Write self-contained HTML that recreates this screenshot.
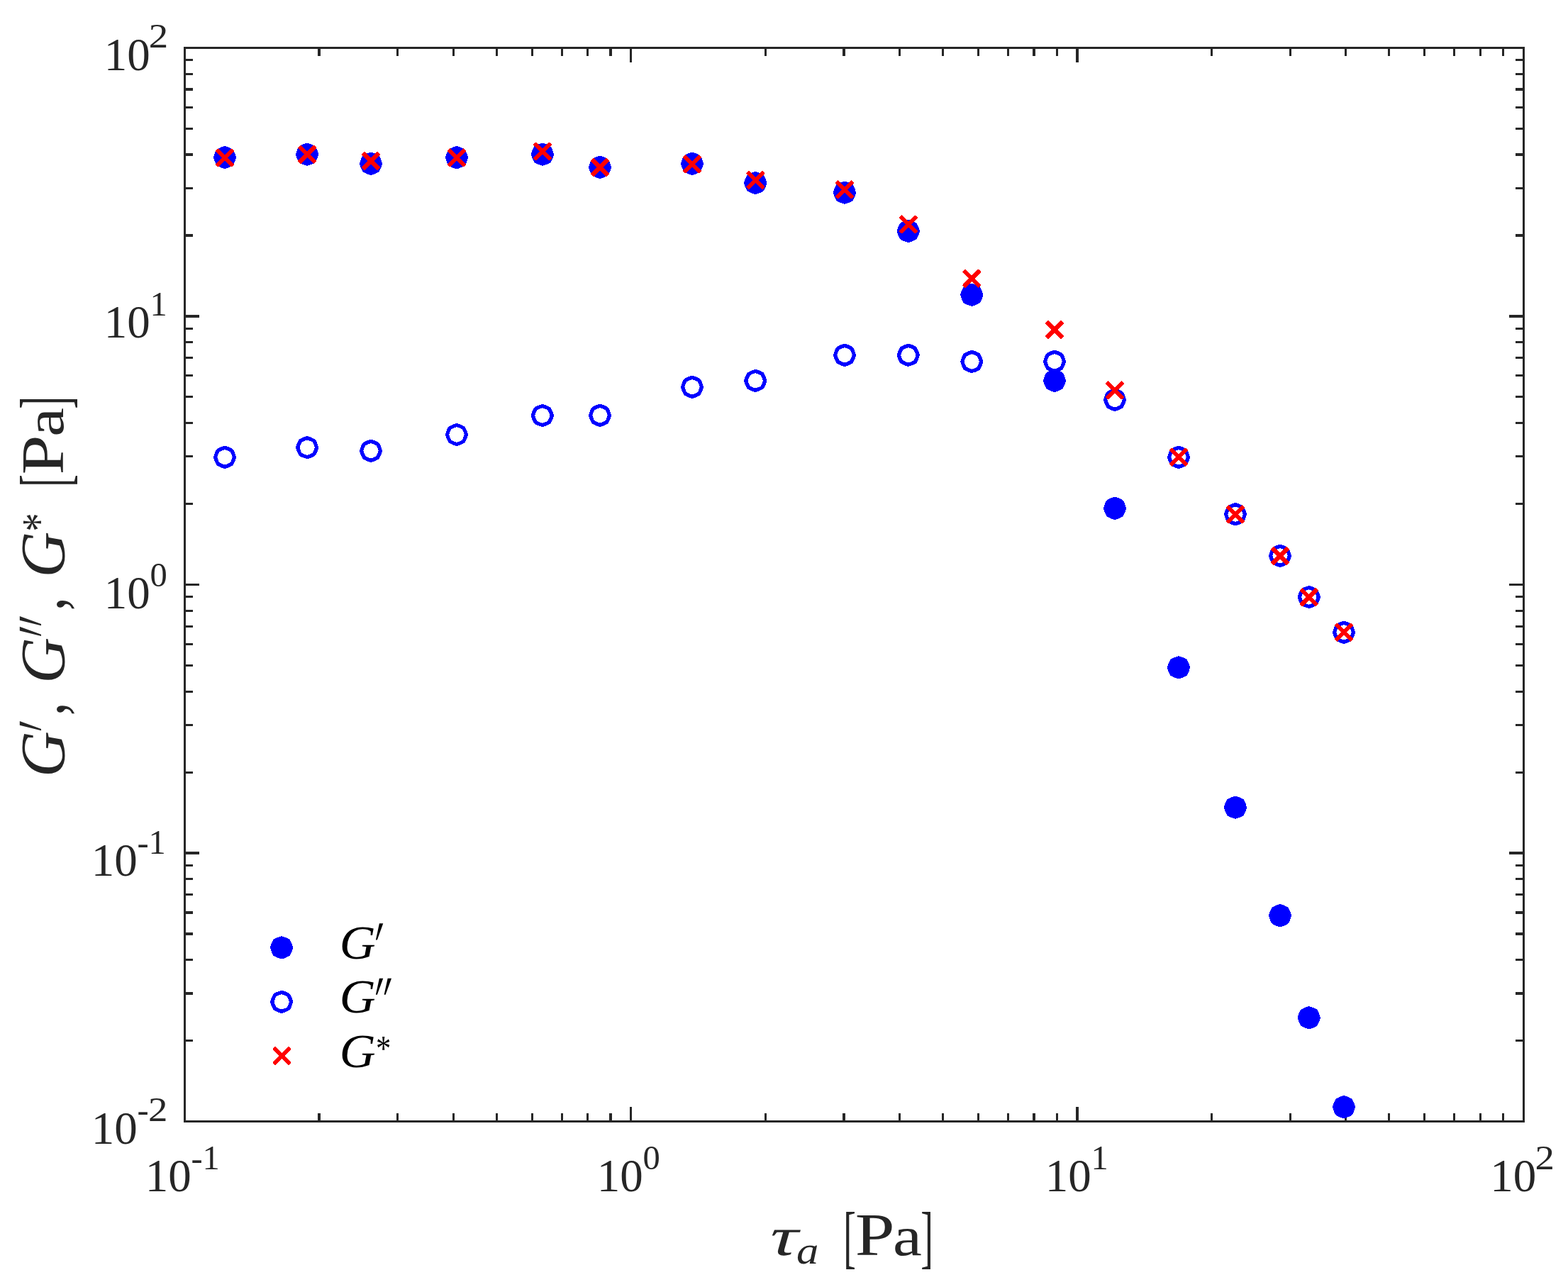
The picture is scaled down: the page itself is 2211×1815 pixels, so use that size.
<!DOCTYPE html>
<html lang="en"><head><meta charset="utf-8"><title>G′, G″, G* vs τa [Pa]</title>
<style>
html,body{margin:0;padding:0;background:#fff;}
body{width:2211px;height:1815px;}
svg{display:block;}
text{font-family:"Liberation Serif","DejaVu Serif",serif;fill:#262626;white-space:pre;}
.i{font-style:italic;}
.lg text{fill:#000;}
</style></head><body>
<svg width="2211" height="1815" viewBox="0 0 2211 1815" role="img" aria-label="Log-log plot of G′, G″ and G* [Pa] against τa [Pa]">
<rect x="0" y="0" width="2211" height="1815" fill="#fff"/>
<g fill="#262626" shape-rendering="crispEdges">
<rect x="259" y="66" width="1891" height="3"/>
<rect x="259" y="1580" width="1891" height="3"/>
<rect x="259" y="66" width="3" height="1517"/>
<rect x="2147" y="66" width="3" height="1517"/>
<rect x="448" y="1570" width="4" height="13"/>
<rect x="448" y="66" width="4" height="13"/>
<rect x="559" y="1570" width="3" height="13"/>
<rect x="559" y="66" width="3" height="13"/>
<rect x="638" y="1570" width="3" height="13"/>
<rect x="638" y="66" width="3" height="13"/>
<rect x="699" y="1570" width="3" height="13"/>
<rect x="699" y="66" width="3" height="13"/>
<rect x="749" y="1570" width="3" height="13"/>
<rect x="749" y="66" width="3" height="13"/>
<rect x="791" y="1570" width="3" height="13"/>
<rect x="791" y="66" width="3" height="13"/>
<rect x="827" y="1570" width="3" height="13"/>
<rect x="827" y="66" width="3" height="13"/>
<rect x="859" y="1570" width="4" height="13"/>
<rect x="859" y="66" width="4" height="13"/>
<rect x="888" y="1561" width="3" height="22"/>
<rect x="888" y="66" width="3" height="22"/>
<rect x="1078" y="1570" width="3" height="13"/>
<rect x="1078" y="66" width="3" height="13"/>
<rect x="1188" y="1570" width="4" height="13"/>
<rect x="1188" y="66" width="4" height="13"/>
<rect x="1267" y="1570" width="3" height="13"/>
<rect x="1267" y="66" width="3" height="13"/>
<rect x="1328" y="1570" width="3" height="13"/>
<rect x="1328" y="66" width="3" height="13"/>
<rect x="1378" y="1570" width="3" height="13"/>
<rect x="1378" y="66" width="3" height="13"/>
<rect x="1420" y="1570" width="3" height="13"/>
<rect x="1420" y="66" width="3" height="13"/>
<rect x="1456" y="1570" width="4" height="13"/>
<rect x="1456" y="66" width="4" height="13"/>
<rect x="1489" y="1570" width="3" height="13"/>
<rect x="1489" y="66" width="3" height="13"/>
<rect x="1517" y="1561" width="4" height="22"/>
<rect x="1517" y="66" width="4" height="22"/>
<rect x="1707" y="1570" width="3" height="13"/>
<rect x="1707" y="66" width="3" height="13"/>
<rect x="1818" y="1570" width="3" height="13"/>
<rect x="1818" y="66" width="3" height="13"/>
<rect x="1896" y="1570" width="3" height="13"/>
<rect x="1896" y="66" width="3" height="13"/>
<rect x="1957" y="1570" width="3" height="13"/>
<rect x="1957" y="66" width="3" height="13"/>
<rect x="2007" y="1570" width="3" height="13"/>
<rect x="2007" y="66" width="3" height="13"/>
<rect x="2049" y="1570" width="3" height="13"/>
<rect x="2049" y="66" width="3" height="13"/>
<rect x="2086" y="1570" width="3" height="13"/>
<rect x="2086" y="66" width="3" height="13"/>
<rect x="2118" y="1570" width="3" height="13"/>
<rect x="2118" y="66" width="3" height="13"/>
<rect x="259" y="1466" width="13" height="3"/>
<rect x="2137" y="1466" width="13" height="3"/>
<rect x="259" y="1399" width="13" height="4"/>
<rect x="2137" y="1399" width="13" height="4"/>
<rect x="259" y="1352" width="13" height="3"/>
<rect x="2137" y="1352" width="13" height="3"/>
<rect x="259" y="1315" width="13" height="4"/>
<rect x="2137" y="1315" width="13" height="4"/>
<rect x="259" y="1285" width="13" height="4"/>
<rect x="2137" y="1285" width="13" height="4"/>
<rect x="259" y="1260" width="13" height="3"/>
<rect x="2137" y="1260" width="13" height="3"/>
<rect x="259" y="1238" width="13" height="3"/>
<rect x="2137" y="1238" width="13" height="3"/>
<rect x="259" y="1219" width="13" height="3"/>
<rect x="2137" y="1219" width="13" height="3"/>
<rect x="259" y="1201" width="22" height="4"/>
<rect x="2128" y="1201" width="22" height="4"/>
<rect x="259" y="1088" width="13" height="3"/>
<rect x="2137" y="1088" width="13" height="3"/>
<rect x="259" y="1021" width="13" height="3"/>
<rect x="2137" y="1021" width="13" height="3"/>
<rect x="259" y="974" width="13" height="3"/>
<rect x="2137" y="974" width="13" height="3"/>
<rect x="259" y="937" width="13" height="3"/>
<rect x="2137" y="937" width="13" height="3"/>
<rect x="259" y="907" width="13" height="3"/>
<rect x="2137" y="907" width="13" height="3"/>
<rect x="259" y="882" width="13" height="3"/>
<rect x="2137" y="882" width="13" height="3"/>
<rect x="259" y="860" width="13" height="3"/>
<rect x="2137" y="860" width="13" height="3"/>
<rect x="259" y="840" width="13" height="3"/>
<rect x="2137" y="840" width="13" height="3"/>
<rect x="259" y="823" width="22" height="3"/>
<rect x="2128" y="823" width="22" height="3"/>
<rect x="259" y="709" width="13" height="3"/>
<rect x="2137" y="709" width="13" height="3"/>
<rect x="259" y="642" width="13" height="3"/>
<rect x="2137" y="642" width="13" height="3"/>
<rect x="259" y="595" width="13" height="3"/>
<rect x="2137" y="595" width="13" height="3"/>
<rect x="259" y="558" width="13" height="3"/>
<rect x="2137" y="558" width="13" height="3"/>
<rect x="259" y="528" width="13" height="3"/>
<rect x="2137" y="528" width="13" height="3"/>
<rect x="259" y="503" width="13" height="3"/>
<rect x="2137" y="503" width="13" height="3"/>
<rect x="259" y="481" width="13" height="3"/>
<rect x="2137" y="481" width="13" height="3"/>
<rect x="259" y="462" width="13" height="3"/>
<rect x="2137" y="462" width="13" height="3"/>
<rect x="259" y="444" width="22" height="4"/>
<rect x="2128" y="444" width="22" height="4"/>
<rect x="259" y="330" width="13" height="4"/>
<rect x="2137" y="330" width="13" height="4"/>
<rect x="259" y="264" width="13" height="3"/>
<rect x="2137" y="264" width="13" height="3"/>
<rect x="259" y="216" width="13" height="4"/>
<rect x="2137" y="216" width="13" height="4"/>
<rect x="259" y="180" width="13" height="3"/>
<rect x="2137" y="180" width="13" height="3"/>
<rect x="259" y="150" width="13" height="3"/>
<rect x="2137" y="150" width="13" height="3"/>
<rect x="259" y="124" width="13" height="4"/>
<rect x="2137" y="124" width="13" height="4"/>
<rect x="259" y="103" width="13" height="3"/>
<rect x="2137" y="103" width="13" height="3"/>
<rect x="259" y="83" width="13" height="3"/>
<rect x="2137" y="83" width="13" height="3"/>
</g>
<g id="series-Gp" fill="#0000ff" stroke="#0000ff" stroke-width="5.28" stroke-linejoin="round" shape-rendering="crispEdges">
<polygon transform="translate(317.0 222.0)" points="13.46,0.00 11.83,4.90 9.52,9.52 4.90,11.83 0.00,13.46 -4.90,11.83 -9.52,9.52 -11.83,4.90 -13.46,0.00 -11.83,-4.90 -9.52,-9.52 -4.90,-11.83 -0.00,-13.46 4.90,-11.83 9.52,-9.52 11.83,-4.90"/>
<polygon transform="translate(433.1 217.7)" points="13.46,0.00 11.83,4.90 9.52,9.52 4.90,11.83 0.00,13.46 -4.90,11.83 -9.52,9.52 -11.83,4.90 -13.46,0.00 -11.83,-4.90 -9.52,-9.52 -4.90,-11.83 -0.00,-13.46 4.90,-11.83 9.52,-9.52 11.83,-4.90"/>
<polygon transform="translate(523.0 230.9)" points="13.46,0.00 11.83,4.90 9.52,9.52 4.90,11.83 0.00,13.46 -4.90,11.83 -9.52,9.52 -11.83,4.90 -13.46,0.00 -11.83,-4.90 -9.52,-9.52 -4.90,-11.83 -0.00,-13.46 4.90,-11.83 9.52,-9.52 11.83,-4.90"/>
<polygon transform="translate(644.0 222.1)" points="13.46,0.00 11.83,4.90 9.52,9.52 4.90,11.83 0.00,13.46 -4.90,11.83 -9.52,9.52 -11.83,4.90 -13.46,0.00 -11.83,-4.90 -9.52,-9.52 -4.90,-11.83 -0.00,-13.46 4.90,-11.83 9.52,-9.52 11.83,-4.90"/>
<polygon transform="translate(764.9 217.7)" points="13.46,0.00 11.83,4.90 9.52,9.52 4.90,11.83 0.00,13.46 -4.90,11.83 -9.52,9.52 -11.83,4.90 -13.46,0.00 -11.83,-4.90 -9.52,-9.52 -4.90,-11.83 -0.00,-13.46 4.90,-11.83 9.52,-9.52 11.83,-4.90"/>
<polygon transform="translate(846.0 235.9)" points="13.46,0.00 11.83,4.90 9.52,9.52 4.90,11.83 0.00,13.46 -4.90,11.83 -9.52,9.52 -11.83,4.90 -13.46,0.00 -11.83,-4.90 -9.52,-9.52 -4.90,-11.83 -0.00,-13.46 4.90,-11.83 9.52,-9.52 11.83,-4.90"/>
<polygon transform="translate(976.0 230.9)" points="13.46,0.00 11.83,4.90 9.52,9.52 4.90,11.83 0.00,13.46 -4.90,11.83 -9.52,9.52 -11.83,4.90 -13.46,0.00 -11.83,-4.90 -9.52,-9.52 -4.90,-11.83 -0.00,-13.46 4.90,-11.83 9.52,-9.52 11.83,-4.90"/>
<polygon transform="translate(1065.2 258.0)" points="13.46,0.00 11.83,4.90 9.52,9.52 4.90,11.83 0.00,13.46 -4.90,11.83 -9.52,9.52 -11.83,4.90 -13.46,0.00 -11.83,-4.90 -9.52,-9.52 -4.90,-11.83 -0.00,-13.46 4.90,-11.83 9.52,-9.52 11.83,-4.90"/>
<polygon transform="translate(1191.0 271.7)" points="13.46,0.00 11.83,4.90 9.52,9.52 4.90,11.83 0.00,13.46 -4.90,11.83 -9.52,9.52 -11.83,4.90 -13.46,0.00 -11.83,-4.90 -9.52,-9.52 -4.90,-11.83 -0.00,-13.46 4.90,-11.83 9.52,-9.52 11.83,-4.90"/>
<polygon transform="translate(1280.8 326.0)" points="13.46,0.00 11.83,4.90 9.52,9.52 4.90,11.83 0.00,13.46 -4.90,11.83 -9.52,9.52 -11.83,4.90 -13.46,0.00 -11.83,-4.90 -9.52,-9.52 -4.90,-11.83 -0.00,-13.46 4.90,-11.83 9.52,-9.52 11.83,-4.90"/>
<polygon transform="translate(1370.3 415.8)" points="13.46,0.00 11.83,4.90 9.52,9.52 4.90,11.83 0.00,13.46 -4.90,11.83 -9.52,9.52 -11.83,4.90 -13.46,0.00 -11.83,-4.90 -9.52,-9.52 -4.90,-11.83 -0.00,-13.46 4.90,-11.83 9.52,-9.52 11.83,-4.90"/>
<polygon transform="translate(1487.0 536.8)" points="13.46,0.00 11.83,4.90 9.52,9.52 4.90,11.83 0.00,13.46 -4.90,11.83 -9.52,9.52 -11.83,4.90 -13.46,0.00 -11.83,-4.90 -9.52,-9.52 -4.90,-11.83 -0.00,-13.46 4.90,-11.83 9.52,-9.52 11.83,-4.90"/>
<polygon transform="translate(1572.0 716.8)" points="13.46,0.00 11.83,4.90 9.52,9.52 4.90,11.83 0.00,13.46 -4.90,11.83 -9.52,9.52 -11.83,4.90 -13.46,0.00 -11.83,-4.90 -9.52,-9.52 -4.90,-11.83 -0.00,-13.46 4.90,-11.83 9.52,-9.52 11.83,-4.90"/>
<polygon transform="translate(1662.0 941.3)" points="13.46,0.00 11.83,4.90 9.52,9.52 4.90,11.83 0.00,13.46 -4.90,11.83 -9.52,9.52 -11.83,4.90 -13.46,0.00 -11.83,-4.90 -9.52,-9.52 -4.90,-11.83 -0.00,-13.46 4.90,-11.83 9.52,-9.52 11.83,-4.90"/>
<polygon transform="translate(1742.0 1138.7)" points="13.46,0.00 11.83,4.90 9.52,9.52 4.90,11.83 0.00,13.46 -4.90,11.83 -9.52,9.52 -11.83,4.90 -13.46,0.00 -11.83,-4.90 -9.52,-9.52 -4.90,-11.83 -0.00,-13.46 4.90,-11.83 9.52,-9.52 11.83,-4.90"/>
<polygon transform="translate(1805.0 1291.2)" points="13.46,0.00 11.83,4.90 9.52,9.52 4.90,11.83 0.00,13.46 -4.90,11.83 -9.52,9.52 -11.83,4.90 -13.46,0.00 -11.83,-4.90 -9.52,-9.52 -4.90,-11.83 -0.00,-13.46 4.90,-11.83 9.52,-9.52 11.83,-4.90"/>
<polygon transform="translate(1845.8 1435.3)" points="13.46,0.00 11.83,4.90 9.52,9.52 4.90,11.83 0.00,13.46 -4.90,11.83 -9.52,9.52 -11.83,4.90 -13.46,0.00 -11.83,-4.90 -9.52,-9.52 -4.90,-11.83 -0.00,-13.46 4.90,-11.83 9.52,-9.52 11.83,-4.90"/>
<polygon transform="translate(1895.0 1561.1)" points="13.46,0.00 11.83,4.90 9.52,9.52 4.90,11.83 0.00,13.46 -4.90,11.83 -9.52,9.52 -11.83,4.90 -13.46,0.00 -11.83,-4.90 -9.52,-9.52 -4.90,-11.83 -0.00,-13.46 4.90,-11.83 9.52,-9.52 11.83,-4.90"/>
<polygon transform="translate(397.1 1336.4)" points="13.46,0.00 11.83,4.90 9.52,9.52 4.90,11.83 0.00,13.46 -4.90,11.83 -9.52,9.52 -11.83,4.90 -13.46,0.00 -11.83,-4.90 -9.52,-9.52 -4.90,-11.83 -0.00,-13.46 4.90,-11.83 9.52,-9.52 11.83,-4.90"/>
</g>
<g id="series-Gpp" fill="none" stroke="#0000ff" stroke-width="5.28" stroke-linejoin="round" shape-rendering="crispEdges">
<polygon transform="translate(317.0 644.9)" points="13.46,0.00 11.83,4.90 9.52,9.52 4.90,11.83 0.00,13.46 -4.90,11.83 -9.52,9.52 -11.83,4.90 -13.46,0.00 -11.83,-4.90 -9.52,-9.52 -4.90,-11.83 -0.00,-13.46 4.90,-11.83 9.52,-9.52 11.83,-4.90"/>
<polygon transform="translate(433.1 631.1)" points="13.46,0.00 11.83,4.90 9.52,9.52 4.90,11.83 0.00,13.46 -4.90,11.83 -9.52,9.52 -11.83,4.90 -13.46,0.00 -11.83,-4.90 -9.52,-9.52 -4.90,-11.83 -0.00,-13.46 4.90,-11.83 9.52,-9.52 11.83,-4.90"/>
<polygon transform="translate(523.0 635.8)" points="13.46,0.00 11.83,4.90 9.52,9.52 4.90,11.83 0.00,13.46 -4.90,11.83 -9.52,9.52 -11.83,4.90 -13.46,0.00 -11.83,-4.90 -9.52,-9.52 -4.90,-11.83 -0.00,-13.46 4.90,-11.83 9.52,-9.52 11.83,-4.90"/>
<polygon transform="translate(644.0 613.0)" points="13.46,0.00 11.83,4.90 9.52,9.52 4.90,11.83 0.00,13.46 -4.90,11.83 -9.52,9.52 -11.83,4.90 -13.46,0.00 -11.83,-4.90 -9.52,-9.52 -4.90,-11.83 -0.00,-13.46 4.90,-11.83 9.52,-9.52 11.83,-4.90"/>
<polygon transform="translate(764.9 586.0)" points="13.46,0.00 11.83,4.90 9.52,9.52 4.90,11.83 0.00,13.46 -4.90,11.83 -9.52,9.52 -11.83,4.90 -13.46,0.00 -11.83,-4.90 -9.52,-9.52 -4.90,-11.83 -0.00,-13.46 4.90,-11.83 9.52,-9.52 11.83,-4.90"/>
<polygon transform="translate(846.0 585.9)" points="13.46,0.00 11.83,4.90 9.52,9.52 4.90,11.83 0.00,13.46 -4.90,11.83 -9.52,9.52 -11.83,4.90 -13.46,0.00 -11.83,-4.90 -9.52,-9.52 -4.90,-11.83 -0.00,-13.46 4.90,-11.83 9.52,-9.52 11.83,-4.90"/>
<polygon transform="translate(976.0 545.9)" points="13.46,0.00 11.83,4.90 9.52,9.52 4.90,11.83 0.00,13.46 -4.90,11.83 -9.52,9.52 -11.83,4.90 -13.46,0.00 -11.83,-4.90 -9.52,-9.52 -4.90,-11.83 -0.00,-13.46 4.90,-11.83 9.52,-9.52 11.83,-4.90"/>
<polygon transform="translate(1065.2 536.9)" points="13.46,0.00 11.83,4.90 9.52,9.52 4.90,11.83 0.00,13.46 -4.90,11.83 -9.52,9.52 -11.83,4.90 -13.46,0.00 -11.83,-4.90 -9.52,-9.52 -4.90,-11.83 -0.00,-13.46 4.90,-11.83 9.52,-9.52 11.83,-4.90"/>
<polygon transform="translate(1191.0 500.8)" points="13.46,0.00 11.83,4.90 9.52,9.52 4.90,11.83 0.00,13.46 -4.90,11.83 -9.52,9.52 -11.83,4.90 -13.46,0.00 -11.83,-4.90 -9.52,-9.52 -4.90,-11.83 -0.00,-13.46 4.90,-11.83 9.52,-9.52 11.83,-4.90"/>
<polygon transform="translate(1280.8 500.8)" points="13.46,0.00 11.83,4.90 9.52,9.52 4.90,11.83 0.00,13.46 -4.90,11.83 -9.52,9.52 -11.83,4.90 -13.46,0.00 -11.83,-4.90 -9.52,-9.52 -4.90,-11.83 -0.00,-13.46 4.90,-11.83 9.52,-9.52 11.83,-4.90"/>
<polygon transform="translate(1370.3 510.0)" points="13.46,0.00 11.83,4.90 9.52,9.52 4.90,11.83 0.00,13.46 -4.90,11.83 -9.52,9.52 -11.83,4.90 -13.46,0.00 -11.83,-4.90 -9.52,-9.52 -4.90,-11.83 -0.00,-13.46 4.90,-11.83 9.52,-9.52 11.83,-4.90"/>
<polygon transform="translate(1487.0 509.9)" points="13.46,0.00 11.83,4.90 9.52,9.52 4.90,11.83 0.00,13.46 -4.90,11.83 -9.52,9.52 -11.83,4.90 -13.46,0.00 -11.83,-4.90 -9.52,-9.52 -4.90,-11.83 -0.00,-13.46 4.90,-11.83 9.52,-9.52 11.83,-4.90"/>
<polygon transform="translate(1572.0 563.8)" points="13.46,0.00 11.83,4.90 9.52,9.52 4.90,11.83 0.00,13.46 -4.90,11.83 -9.52,9.52 -11.83,4.90 -13.46,0.00 -11.83,-4.90 -9.52,-9.52 -4.90,-11.83 -0.00,-13.46 4.90,-11.83 9.52,-9.52 11.83,-4.90"/>
<polygon transform="translate(1662.0 644.9)" points="13.46,0.00 11.83,4.90 9.52,9.52 4.90,11.83 0.00,13.46 -4.90,11.83 -9.52,9.52 -11.83,4.90 -13.46,0.00 -11.83,-4.90 -9.52,-9.52 -4.90,-11.83 -0.00,-13.46 4.90,-11.83 9.52,-9.52 11.83,-4.90"/>
<polygon transform="translate(1742.0 725.2)" points="13.46,0.00 11.83,4.90 9.52,9.52 4.90,11.83 0.00,13.46 -4.90,11.83 -9.52,9.52 -11.83,4.90 -13.46,0.00 -11.83,-4.90 -9.52,-9.52 -4.90,-11.83 -0.00,-13.46 4.90,-11.83 9.52,-9.52 11.83,-4.90"/>
<polygon transform="translate(1805.0 783.8)" points="13.46,0.00 11.83,4.90 9.52,9.52 4.90,11.83 0.00,13.46 -4.90,11.83 -9.52,9.52 -11.83,4.90 -13.46,0.00 -11.83,-4.90 -9.52,-9.52 -4.90,-11.83 -0.00,-13.46 4.90,-11.83 9.52,-9.52 11.83,-4.90"/>
<polygon transform="translate(1845.8 842.0)" points="13.46,0.00 11.83,4.90 9.52,9.52 4.90,11.83 0.00,13.46 -4.90,11.83 -9.52,9.52 -11.83,4.90 -13.46,0.00 -11.83,-4.90 -9.52,-9.52 -4.90,-11.83 -0.00,-13.46 4.90,-11.83 9.52,-9.52 11.83,-4.90"/>
<polygon transform="translate(1895.0 891.9)" points="13.46,0.00 11.83,4.90 9.52,9.52 4.90,11.83 0.00,13.46 -4.90,11.83 -9.52,9.52 -11.83,4.90 -13.46,0.00 -11.83,-4.90 -9.52,-9.52 -4.90,-11.83 -0.00,-13.46 4.90,-11.83 9.52,-9.52 11.83,-4.90"/>
<polygon transform="translate(397.1 1412.9)" points="13.46,0.00 11.83,4.90 9.52,9.52 4.90,11.83 0.00,13.46 -4.90,11.83 -9.52,9.52 -11.83,4.90 -13.46,0.00 -11.83,-4.90 -9.52,-9.52 -4.90,-11.83 -0.00,-13.46 4.90,-11.83 9.52,-9.52 11.83,-4.90"/>
</g>
<g id="series-Gstar" fill="#ff0000" stroke="none" shape-rendering="crispEdges">
<rect x="-16.14" y="-2.95" width="32.28" height="5.90" rx="1.4" transform="translate(317.0 222.5) rotate(45)"/><rect x="-16.14" y="-2.95" width="32.28" height="5.90" rx="1.4" transform="translate(317.0 222.5) rotate(-45)"/>
<rect x="-16.14" y="-2.95" width="32.28" height="5.90" rx="1.4" transform="translate(433.1 217.9) rotate(45)"/><rect x="-16.14" y="-2.95" width="32.28" height="5.90" rx="1.4" transform="translate(433.1 217.9) rotate(-45)"/>
<rect x="-16.14" y="-2.95" width="32.28" height="5.90" rx="1.4" transform="translate(523.0 227.1) rotate(45)"/><rect x="-16.14" y="-2.95" width="32.28" height="5.90" rx="1.4" transform="translate(523.0 227.1) rotate(-45)"/>
<rect x="-16.14" y="-2.95" width="32.28" height="5.90" rx="1.4" transform="translate(644.0 222.2) rotate(45)"/><rect x="-16.14" y="-2.95" width="32.28" height="5.90" rx="1.4" transform="translate(644.0 222.2) rotate(-45)"/>
<rect x="-16.14" y="-2.95" width="32.28" height="5.90" rx="1.4" transform="translate(764.9 213.5) rotate(45)"/><rect x="-16.14" y="-2.95" width="32.28" height="5.90" rx="1.4" transform="translate(764.9 213.5) rotate(-45)"/>
<rect x="-16.14" y="-2.95" width="32.28" height="5.90" rx="1.4" transform="translate(846.0 235.9) rotate(45)"/><rect x="-16.14" y="-2.95" width="32.28" height="5.90" rx="1.4" transform="translate(846.0 235.9) rotate(-45)"/>
<rect x="-16.14" y="-2.95" width="32.28" height="5.90" rx="1.4" transform="translate(976.0 231.3) rotate(45)"/><rect x="-16.14" y="-2.95" width="32.28" height="5.90" rx="1.4" transform="translate(976.0 231.3) rotate(-45)"/>
<rect x="-16.14" y="-2.95" width="32.28" height="5.90" rx="1.4" transform="translate(1065.2 254.0) rotate(45)"/><rect x="-16.14" y="-2.95" width="32.28" height="5.90" rx="1.4" transform="translate(1065.2 254.0) rotate(-45)"/>
<rect x="-16.14" y="-2.95" width="32.28" height="5.90" rx="1.4" transform="translate(1191.0 267.4) rotate(45)"/><rect x="-16.14" y="-2.95" width="32.28" height="5.90" rx="1.4" transform="translate(1191.0 267.4) rotate(-45)"/>
<rect x="-16.14" y="-2.95" width="32.28" height="5.90" rx="1.4" transform="translate(1280.8 316.5) rotate(45)"/><rect x="-16.14" y="-2.95" width="32.28" height="5.90" rx="1.4" transform="translate(1280.8 316.5) rotate(-45)"/>
<rect x="-16.14" y="-2.95" width="32.28" height="5.90" rx="1.4" transform="translate(1370.3 392.8) rotate(45)"/><rect x="-16.14" y="-2.95" width="32.28" height="5.90" rx="1.4" transform="translate(1370.3 392.8) rotate(-45)"/>
<rect x="-16.14" y="-2.95" width="32.28" height="5.90" rx="1.4" transform="translate(1487.0 464.9) rotate(45)"/><rect x="-16.14" y="-2.95" width="32.28" height="5.90" rx="1.4" transform="translate(1487.0 464.9) rotate(-45)"/>
<rect x="-16.14" y="-2.95" width="32.28" height="5.90" rx="1.4" transform="translate(1572.0 550.3) rotate(45)"/><rect x="-16.14" y="-2.95" width="32.28" height="5.90" rx="1.4" transform="translate(1572.0 550.3) rotate(-45)"/>
<rect x="-16.14" y="-2.95" width="32.28" height="5.90" rx="1.4" transform="translate(1662.0 644.6) rotate(45)"/><rect x="-16.14" y="-2.95" width="32.28" height="5.90" rx="1.4" transform="translate(1662.0 644.6) rotate(-45)"/>
<rect x="-16.14" y="-2.95" width="32.28" height="5.90" rx="1.4" transform="translate(1742.0 725.4) rotate(45)"/><rect x="-16.14" y="-2.95" width="32.28" height="5.90" rx="1.4" transform="translate(1742.0 725.4) rotate(-45)"/>
<rect x="-16.14" y="-2.95" width="32.28" height="5.90" rx="1.4" transform="translate(1805.0 784.0) rotate(45)"/><rect x="-16.14" y="-2.95" width="32.28" height="5.90" rx="1.4" transform="translate(1805.0 784.0) rotate(-45)"/>
<rect x="-16.14" y="-2.95" width="32.28" height="5.90" rx="1.4" transform="translate(1845.8 842.2) rotate(45)"/><rect x="-16.14" y="-2.95" width="32.28" height="5.90" rx="1.4" transform="translate(1845.8 842.2) rotate(-45)"/>
<rect x="-16.14" y="-2.95" width="32.28" height="5.90" rx="1.4" transform="translate(1895.0 891.8) rotate(45)"/><rect x="-16.14" y="-2.95" width="32.28" height="5.90" rx="1.4" transform="translate(1895.0 891.8) rotate(-45)"/>
<rect x="-16.14" y="-2.95" width="32.28" height="5.90" rx="1.4" transform="translate(397.5 1489.0) rotate(45)"/><rect x="-16.14" y="-2.95" width="32.28" height="5.90" rx="1.4" transform="translate(397.5 1489.0) rotate(-45)"/>
</g>
<g id="ticklabels">
<text x="146.70" y="99.00" font-size="65.00">10<tspan x="209.82" y="67.00" font-size="48.50" textLength="27.40" lengthAdjust="spacingAndGlyphs">2</tspan></text>
<text x="146.70" y="476.00" font-size="65.00">10<tspan x="211.40" y="445.00" font-size="48.50">1</tspan></text>
<text x="146.70" y="857.90" font-size="65.00">10<tspan x="211.40" y="826.70" font-size="48.50">0</tspan></text>
<text x="128.70" y="1234.90" font-size="65.00">10<tspan x="193.40" y="1205.00" font-size="48.50">-</tspan><tspan x="209.55" y="1204.00" font-size="48.50">1</tspan></text>
<text x="128.70" y="1612.80" font-size="65.00">10<tspan x="193.40" y="1582.00" font-size="48.50">-</tspan><tspan x="208.97" y="1581.00" font-size="48.50" textLength="27.40" lengthAdjust="spacingAndGlyphs">2</tspan></text>
<text x="204.75" y="1679.90" font-size="65.00">10<tspan x="269.45" y="1650.00" font-size="48.50">-</tspan><tspan x="285.60" y="1649.00" font-size="48.50">1</tspan></text>
<text x="841.70" y="1679.90" font-size="65.00">10<tspan x="906.40" y="1648.80" font-size="48.50">0</tspan></text>
<text x="1473.80" y="1679.90" font-size="65.00">10<tspan x="1538.50" y="1649.00" font-size="48.50">1</tspan></text>
<text x="2101.30" y="1679.90" font-size="65.00">10<tspan x="2164.42" y="1649.00" font-size="48.50" textLength="27.40" lengthAdjust="spacingAndGlyphs">2</tspan></text>
</g>
<g id="legend" class="lg">
<text class="i" transform="translate(478.71 1351.51) scale(1.0462 1)" font-size="67.37">G</text>
<text transform="translate(520.42 1367.38) skewX(-9.090) scale(0.5637 1)" font-size="98.78">′</text>
<text class="i" transform="translate(478.71 1428.41) scale(1.0462 1)" font-size="67.37">G</text>
<text transform="translate(520.44 1444.30) skewX(-9.090) scale(0.5675 1)" font-size="98.36">′</text>
<text transform="translate(532.34 1444.30) skewX(-9.090) scale(0.5675 1)" font-size="98.36">′</text>
<text class="i" transform="translate(478.71 1505.41) scale(1.0509 1)" font-size="67.07">G</text>
<text transform="translate(529.92 1494.51) scale(0.8408 1)" font-size="50.72">*</text>
</g>
<g id="xlabel">
<text transform="translate(1078.78 1770.35) skewX(-15.642) scale(1.3734 1)" font-size="77.23">τ</text>
<text class="i" transform="translate(1123.08 1781.64) scale(1.1520 1)" font-size="54.47">a</text>
<text transform="translate(1189.27 1776.83) scale(0.5425 1)" font-size="97.69">[</text>
<text transform="translate(1205.67 1770.15) scale(1.1897 1)" font-size="84.30">P<tspan x="44.83" y="0.19" font-size="77.45">a</tspan></text>
<text transform="translate(1298.19 1776.83) scale(0.5425 1)" font-size="97.69">]</text>
</g>
<g id="ylabel">
<text class="i" transform="translate(90.32 1095.95) rotate(-90) scale(1.0148 1)" font-size="88.39">G</text>
<text transform="translate(111.90 1043.93) rotate(-90) skewX(-11.310) scale(0.4700 1)" font-size="128.59">′</text>
<text transform="translate(89.89 1008.93) rotate(-90) scale(0.7653 1)" font-size="96.95">,</text>
<text class="i" transform="translate(90.32 963.75) rotate(-90) scale(1.0148 1)" font-size="88.39">G</text>
<text transform="translate(111.90 910.78) rotate(-90) skewX(-11.310) scale(0.4700 1)" font-size="128.59">′</text>
<text transform="translate(111.90 895.88) rotate(-90) skewX(-11.310) scale(0.4700 1)" font-size="128.59">′</text>
<text transform="translate(89.89 860.94) rotate(-90) scale(0.7688 1)" font-size="96.95">,</text>
<text class="i" transform="translate(90.32 814.55) rotate(-90) scale(1.0148 1)" font-size="88.39">G</text>
<text transform="translate(76.62 749.54) rotate(-90) scale(0.7607 1)" font-size="68.45">*</text>
<text transform="translate(96.01 686.82) rotate(-90) scale(0.5392 1)" font-size="97.87">[</text>
<text transform="translate(89.20 669.41) rotate(-90) scale(1.1957 1)" font-size="84.15">P<tspan x="44.83" y="-0.15" font-size="76.62">a</tspan></text>
<text transform="translate(96.01 576.76) rotate(-90) scale(0.5392 1)" font-size="97.87">]</text>
</g>
</svg>
</body></html>
